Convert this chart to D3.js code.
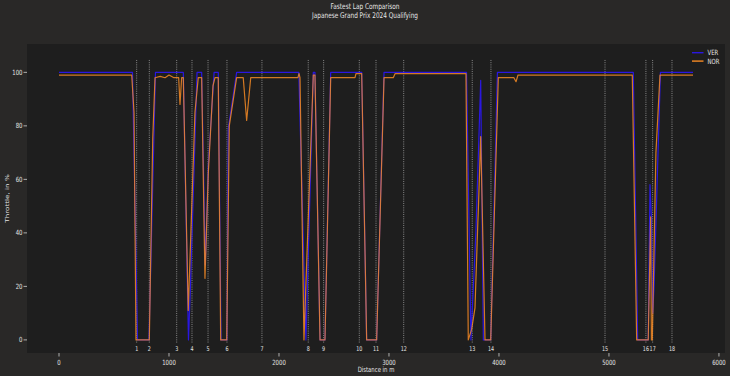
<!DOCTYPE html>
<html>
<head>
<meta charset="utf-8">
<script src="https://cdn.jsdelivr.net/npm/d3@7"></script>
<style>
  html, body { margin: 0; padding: 0; background: #292827; }
  svg { display: block; font-family: "DejaVu Sans", sans-serif; }
</style>
</head>
<body>
<script>
// throttle traces, distance in m / throttle in %
const verDist = [0, 668, 714, 818, 877, 1130, 1177, 1195, 1255, 1297, 1330, 1357, 1410, 1448, 1473, 1527, 1539, 1615,
  2180, 2245, 2312, 2327, 2373, 2418, 2470, 2752, 2797, 2888, 2955, 3705, 3745, 3790, 3834, 3858, 3925, 3986,
  5221, 5261, 5357, 5373, 5386, 5398, 5410, 5468, 5764];
const verThrottle = [100, 100, 0, 0, 100, 100, 0, 20, 100, 100, 28, 65, 100, 100, 0, 0, 79, 100,
  100, 0, 100, 100, 0, 0, 100, 100, 0, 0, 100, 100, 0, 40, 97, 0, 0, 100,
  100, 0, 0, 58, 46, 10, 20, 100, 100];

const norDist = [0, 661, 682, 700, 821, 852, 873, 920, 964, 1000, 1045, 1088, 1100, 1115, 1130, 1175, 1236, 1266,
  1297, 1327, 1357, 1400, 1418, 1448, 1470, 1525, 1548, 1615, 1675, 1706, 1743, 2172, 2182, 2191, 2227, 2312,
  2327, 2373, 2418, 2470, 2691, 2700, 2752, 2797, 2888, 2955, 3039, 3055, 3700, 3721, 3752, 3782, 3808, 3812,
  3834, 3873, 3925, 3994, 4136, 4155, 4173, 5212, 5252, 5357, 5379, 5386, 5394, 5427, 5464, 5764];
const norThrottle = [99, 99, 85, 0, 0, 75, 98, 98.5, 98, 99, 98, 98, 88, 98, 98, 11, 85, 98,
  98, 23, 62, 95, 98, 98, 0, 0, 80, 98, 98, 82, 98, 98, 99.5, 98, 0, 99,
  99, 0, 0, 98, 98, 99.5, 99.5, 0, 0, 98, 98, 99.5, 99.5, 0, 4, 12, 44, 48,
  76, 0, 0, 98, 98, 96.5, 99, 99, 0, 0, 46, 0, 0, 70, 99, 99];

const cornerDist = [706, 821, 1070, 1209, 1355, 1527, 1845, 2266, 2406, 2730, 2882, 3134, 3757, 3927, 4964, 5336, 5397, 5573];
const cornerNum = ['1', '2', '3', '4', '5', '6', '7', '8', '9', '10', '11', '12', '13', '14', '15', '16', '17', '18'];

const xTicks = [0, 1000, 2000, 3000, 4000, 5000, 6000];
const yTicks = [0, 20, 40, 60, 80, 100];

const drivers = ['VER', 'NOR'];
const driverColors = ['#2a17e0', '#f58a24'];

const width = 730;
const height = 376;
const plot = {left: 27, top: 44, right: 725, bottom: 353};
const squeeze = 0.74; // text in the picture is narrower than it is tall

let svg = d3.select('body')
            .append('svg')
            .attr('width', width)
            .attr('height', height);

svg.append('rect')
   .attr('width', width)
   .attr('height', height)
   .attr('fill', '#292827');

svg.append('rect')
   .attr('x', plot.left)
   .attr('y', plot.top)
   .attr('width', plot.right - plot.left)
   .attr('height', plot.bottom - plot.top)
   .attr('fill', '#1e1e1e');

let x = d3.scaleLinear().domain([-291, 6055]).range([plot.left, plot.right]);
let y = d3.scaleLinear().domain([-4.9, 110.6]).range([plot.bottom, plot.top]);

function label(sel, tx, ty, anchor) {
    return sel.attr('transform', (d, i) => `translate(${tx(d, i)},${ty(d, i)}) scale(${squeeze},1)`)
              .attr('text-anchor', anchor)
              .attr('fill', '#e6e6e6');
}

// corner markers
svg.append('g')
   .selectAll('line')
   .data(cornerDist)
   .enter()
   .append('line')
   .attr('x1', d => x(d))
   .attr('x2', d => x(d))
   .attr('y1', y(-1))
   .attr('y2', y(105))
   .attr('stroke', '#8a8a8a')
   .attr('stroke-width', 1)
   .attr('stroke-dasharray', '1,1.2');

label(svg.append('g')
   .selectAll('text')
   .data(cornerDist)
   .enter()
   .append('text')
   .text((d, i) => cornerNum[i])
   .attr('font-size', 6.5), d => x(d), () => y(-3.4) + 2.5, 'middle');

// throttle lines
let line = d3.line()
             .x(d => x(d[0]))
             .y(d => y(d[1]));

let traces = [d3.zip(verDist, verThrottle), d3.zip(norDist, norThrottle)];

svg.append('g')
   .selectAll('path')
   .data(traces)
   .enter()
   .append('path')
   .attr('d', line)
   .attr('fill', 'none')
   .attr('stroke', (d, i) => driverColors[i])
   .attr('stroke-opacity', (d, i) => i == 1 ? 0.85 : 1)
   .attr('stroke-width', 1.2)
   .attr('stroke-linejoin', 'round');

// x axis
let xAxis = svg.append('g');
xAxis.selectAll('line')
     .data(xTicks)
     .enter()
     .append('line')
     .attr('x1', d => x(d))
     .attr('x2', d => x(d))
     .attr('y1', plot.bottom)
     .attr('y2', plot.bottom + 3.5)
     .attr('stroke', '#d0d0d0')
     .attr('stroke-width', 0.8);
label(xAxis.selectAll('text')
     .data(xTicks)
     .enter()
     .append('text')
     .text(d => d)
     .attr('font-size', 7.2), d => x(d), () => 364.5, 'middle');

// y axis
let yAxis = svg.append('g');
yAxis.selectAll('line')
     .data(yTicks)
     .enter()
     .append('line')
     .attr('x1', plot.left - 3.5)
     .attr('x2', plot.left)
     .attr('y1', d => y(d))
     .attr('y2', d => y(d))
     .attr('stroke', '#d0d0d0')
     .attr('stroke-width', 0.8);
label(yAxis.selectAll('text')
     .data(yTicks)
     .enter()
     .append('text')
     .text(d => d)
     .attr('font-size', 7.2), () => 22.5, d => y(d) + 2.6, 'end');

// axis titles
svg.append('text')
   .text('Distance in m')
   .attr('font-size', 7.2)
   .attr('transform', `translate(${(plot.left + plot.right) / 2},372) scale(${squeeze},1)`)
   .attr('text-anchor', 'middle')
   .attr('fill', '#e6e6e6');

svg.append('text')
   .text('Throttle, in %')
   .attr('font-size', 7.2)
   .attr('transform', `translate(8.5,${(plot.top + plot.bottom) / 2}) rotate(-90) scale(1,${squeeze})`)
   .attr('text-anchor', 'middle')
   .attr('fill', '#e6e6e6');

// titles
let titles = ['Fastest Lap Comparison', 'Japanese Grand Prix 2024 Qualifying'];
label(svg.append('g')
   .selectAll('text')
   .data(titles)
   .enter()
   .append('text')
   .text(d => d)
   .attr('font-size', 7.8), () => 365, (d, i) => 9.3 + i * 8.8, 'middle');

// legend
let legend = svg.append('g');
legend.selectAll('line')
      .data(drivers)
      .enter()
      .append('line')
      .attr('x1', 692)
      .attr('x2', 703.5)
      .attr('y1', (d, i) => 52.7 + i * 8.4)
      .attr('y2', (d, i) => 52.7 + i * 8.4)
      .attr('stroke', (d, i) => driverColors[i])
      .attr('stroke-width', 1.4);
label(legend.selectAll('text')
      .data(drivers)
      .enter()
      .append('text')
      .text(d => d)
      .attr('font-size', 7.2), () => 707.5, (d, i) => 55.3 + i * 8.4, 'start');
</script>
</body>
</html>
